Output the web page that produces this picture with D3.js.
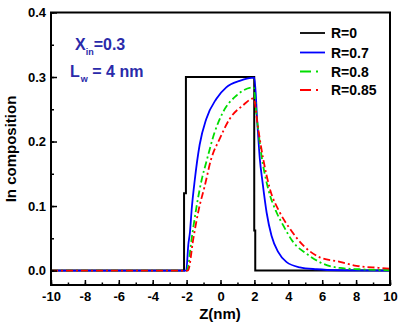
<!DOCTYPE html>
<html><head><meta charset="utf-8">
<script src="https://cdn.jsdelivr.net/npm/d3@7"></script>
<style>
html,body{margin:0;padding:0;background:#fff;}
svg text{font-family:"Liberation Sans",Arial,sans-serif;font-weight:bold;}
</style></head>
<body><svg id="c" width="400" height="324"></svg>
<script>
// ---- data ----
const xTicks = [-10,-8,-6,-4,-2,0,2,4,6,8,10];
const yTicks = [0.0,0.1,0.2,0.3,0.4];
const seriesNames = ["R=0","R=0.7","R=0.8","R=0.85"];
const seriesColors = ["#000000","#0000ff","#00dd00","#ff0000"];

const zR0 = [-10,-2.15,-2.15,-2.04,-2.04,1.99,1.99,2.05,2.05,10];
const vR0 = [0,0,0.12,0.12,0.3,0.3,0.062,0.062,0,0];

const zR07 = [-10,-2.02,-1.9,-1.8,-1.7,-1.52,-1.23,-0.84,-0.25,0.34,1.13,2.0,2.17,2.32,2.48,2.72,3.01,3.40,3.90,4.68,5.67,7,10];
const vR07 = [0,0,0.04,0.06,0.095,0.14,0.195,0.235,0.266,0.284,0.294,0.299,0.23,0.173,0.137,0.09,0.054,0.029,0.013,0.005,0.002,0.0005,0];

const zR08 = [-10,-1.98,-1.7,-1.42,-1.1,-0.84,-0.35,0.14,0.93,1.95,2.13,2.42,2.81,3.31,3.70,4.29,5.08,6.06,7.04,8.2,10];
const vR08 = [0,0,0.05,0.098,0.142,0.168,0.214,0.245,0.271,0.284,0.24,0.178,0.127,0.09,0.07,0.044,0.026,0.0105,0.004,0.002,0.0005];

const zR085 = [-10,-1.92,-1.6,-1.28,-0.94,-0.55,-0.05,0.54,1.32,1.95,2.22,2.52,2.91,3.50,4.09,4.88,5.9,7.04,8.02,9.3,10];
const vR085 = [0,0,0.05,0.095,0.13,0.173,0.204,0.235,0.256,0.267,0.22,0.173,0.127,0.09,0.065,0.039,0.02,0.0136,0.0074,0.0043,0.003];

// ---- layout ----
const L=51, R=390, T=12.5, B=285;
const svg = d3.select("#c");
const x = d3.scaleLinear().domain([-10,10]).range([L,R]);
const y = d3.scaleLinear().domain([-0.0224,0.4]).range([B,T]);

// curves
const series = [
  {z:zR0, v:vR0, dash:null, w:2, curve:d3.curveLinear},
  {z:zR07, v:vR07, dash:null, w:1.8, curve:d3.curveMonotoneX},
  {z:zR08, v:vR08, dash:"7,3,2,3", w:1.8, curve:d3.curveMonotoneX},
  {z:zR085, v:vR085, dash:"7,3,2,3", w:1.8, curve:d3.curveMonotoneX}
];
series.forEach((s,k)=>{
  const pts = s.z.map((z,i)=>[z,s.v[i]]);
  const line = d3.line().x(d=>x(d[0])).y(d=>y(d[1])).curve(s.curve);
  svg.append("path").attr("d",line(pts)).attr("fill","none")
    .attr("stroke",seriesColors[k]).attr("stroke-width",s.w)
    .attr("stroke-dasharray",s.dash);
});

// frame
svg.append("rect").attr("x",L).attr("y",T).attr("width",R-L).attr("height",B-T)
  .attr("fill","none").attr("stroke","#000").attr("stroke-width",2);

const styleText = g=>g.selectAll("text").attr("font-size",13).attr("fill","#000")
  .style("font-family","'Liberation Sans',Arial,sans-serif").style("font-weight","bold");

// x axis
const xMinor = d3.range(-10,11,1);
svg.append("g").attr("transform",`translate(0,${B})`)
  .call(d3.axisBottom(x).tickValues(xMinor).tickSizeInner(-2.5).tickSizeOuter(0).tickFormat(""))
  .call(g=>g.select(".domain").remove())
  .call(g=>g.selectAll("line").attr("stroke-width",1.5));
svg.append("g").attr("transform",`translate(0,${B})`)
  .call(d3.axisBottom(x).tickValues(xTicks).tickSizeInner(-5).tickSizeOuter(0).tickPadding(7).tickFormat(d=>String(d)))
  .call(g=>g.select(".domain").remove())
  .call(g=>g.selectAll("line").attr("stroke-width",1.5))
  .call(styleText);

// y axis
const yMinor = d3.range(0,0.401,0.05);
svg.append("g").attr("transform",`translate(${L},0)`)
  .call(d3.axisLeft(y).tickValues(yMinor).tickSizeInner(-3).tickSizeOuter(0).tickFormat(""))
  .call(g=>g.select(".domain").remove())
  .call(g=>g.selectAll("line").attr("stroke-width",1.5));
svg.append("g").attr("transform",`translate(${L},0)`)
  .call(d3.axisLeft(y).tickValues(yTicks).tickSizeInner(-6).tickSizeOuter(0).tickPadding(5).tickFormat(d=>d.toFixed(1)))
  .call(g=>g.select(".domain").remove())
  .call(g=>g.selectAll("line").attr("stroke-width",1.5))
  .call(styleText);

// axis titles
svg.append("text").attr("x",220).attr("y",319).attr("text-anchor","middle")
  .attr("font-size",15).text("Z(nm)");
svg.append("text").attr("transform","translate(16,149) rotate(-90)").attr("text-anchor","middle")
  .attr("font-size",15).text("In composition");

// legend
const legY = [33,52.5,71.5,90];
seriesNames.forEach((n,k)=>{
  svg.append("line").attr("x1",300).attr("x2",325).attr("y1",legY[k]).attr("y2",legY[k])
    .attr("stroke",seriesColors[k]).attr("stroke-width",1.8)
    .attr("stroke-dasharray",k>=2?"11,5,2,20":null);
  svg.append("text").attr("x",331).attr("y",legY[k]+5).attr("font-size",14).text(n);
});

// annotations
const annColor = "#2a2aaa";
const a1 = svg.append("text").attr("x",75).attr("y",50).attr("fill",annColor).attr("font-size",16);
a1.append("tspan").text("X");
a1.append("tspan").attr("font-size",9).attr("dy",5).text("in");
a1.append("tspan").attr("dy",-5).text("=0.3");
const a2 = svg.append("text").attr("x",70).attr("y",77).attr("fill",annColor).attr("font-size",16);
a2.append("tspan").text("L");
a2.append("tspan").attr("font-size",9).attr("dy",5).attr("dx",1).text("w");
a2.append("tspan").attr("dy",-5).text(" = 4 nm");
</script>
</body></html>
